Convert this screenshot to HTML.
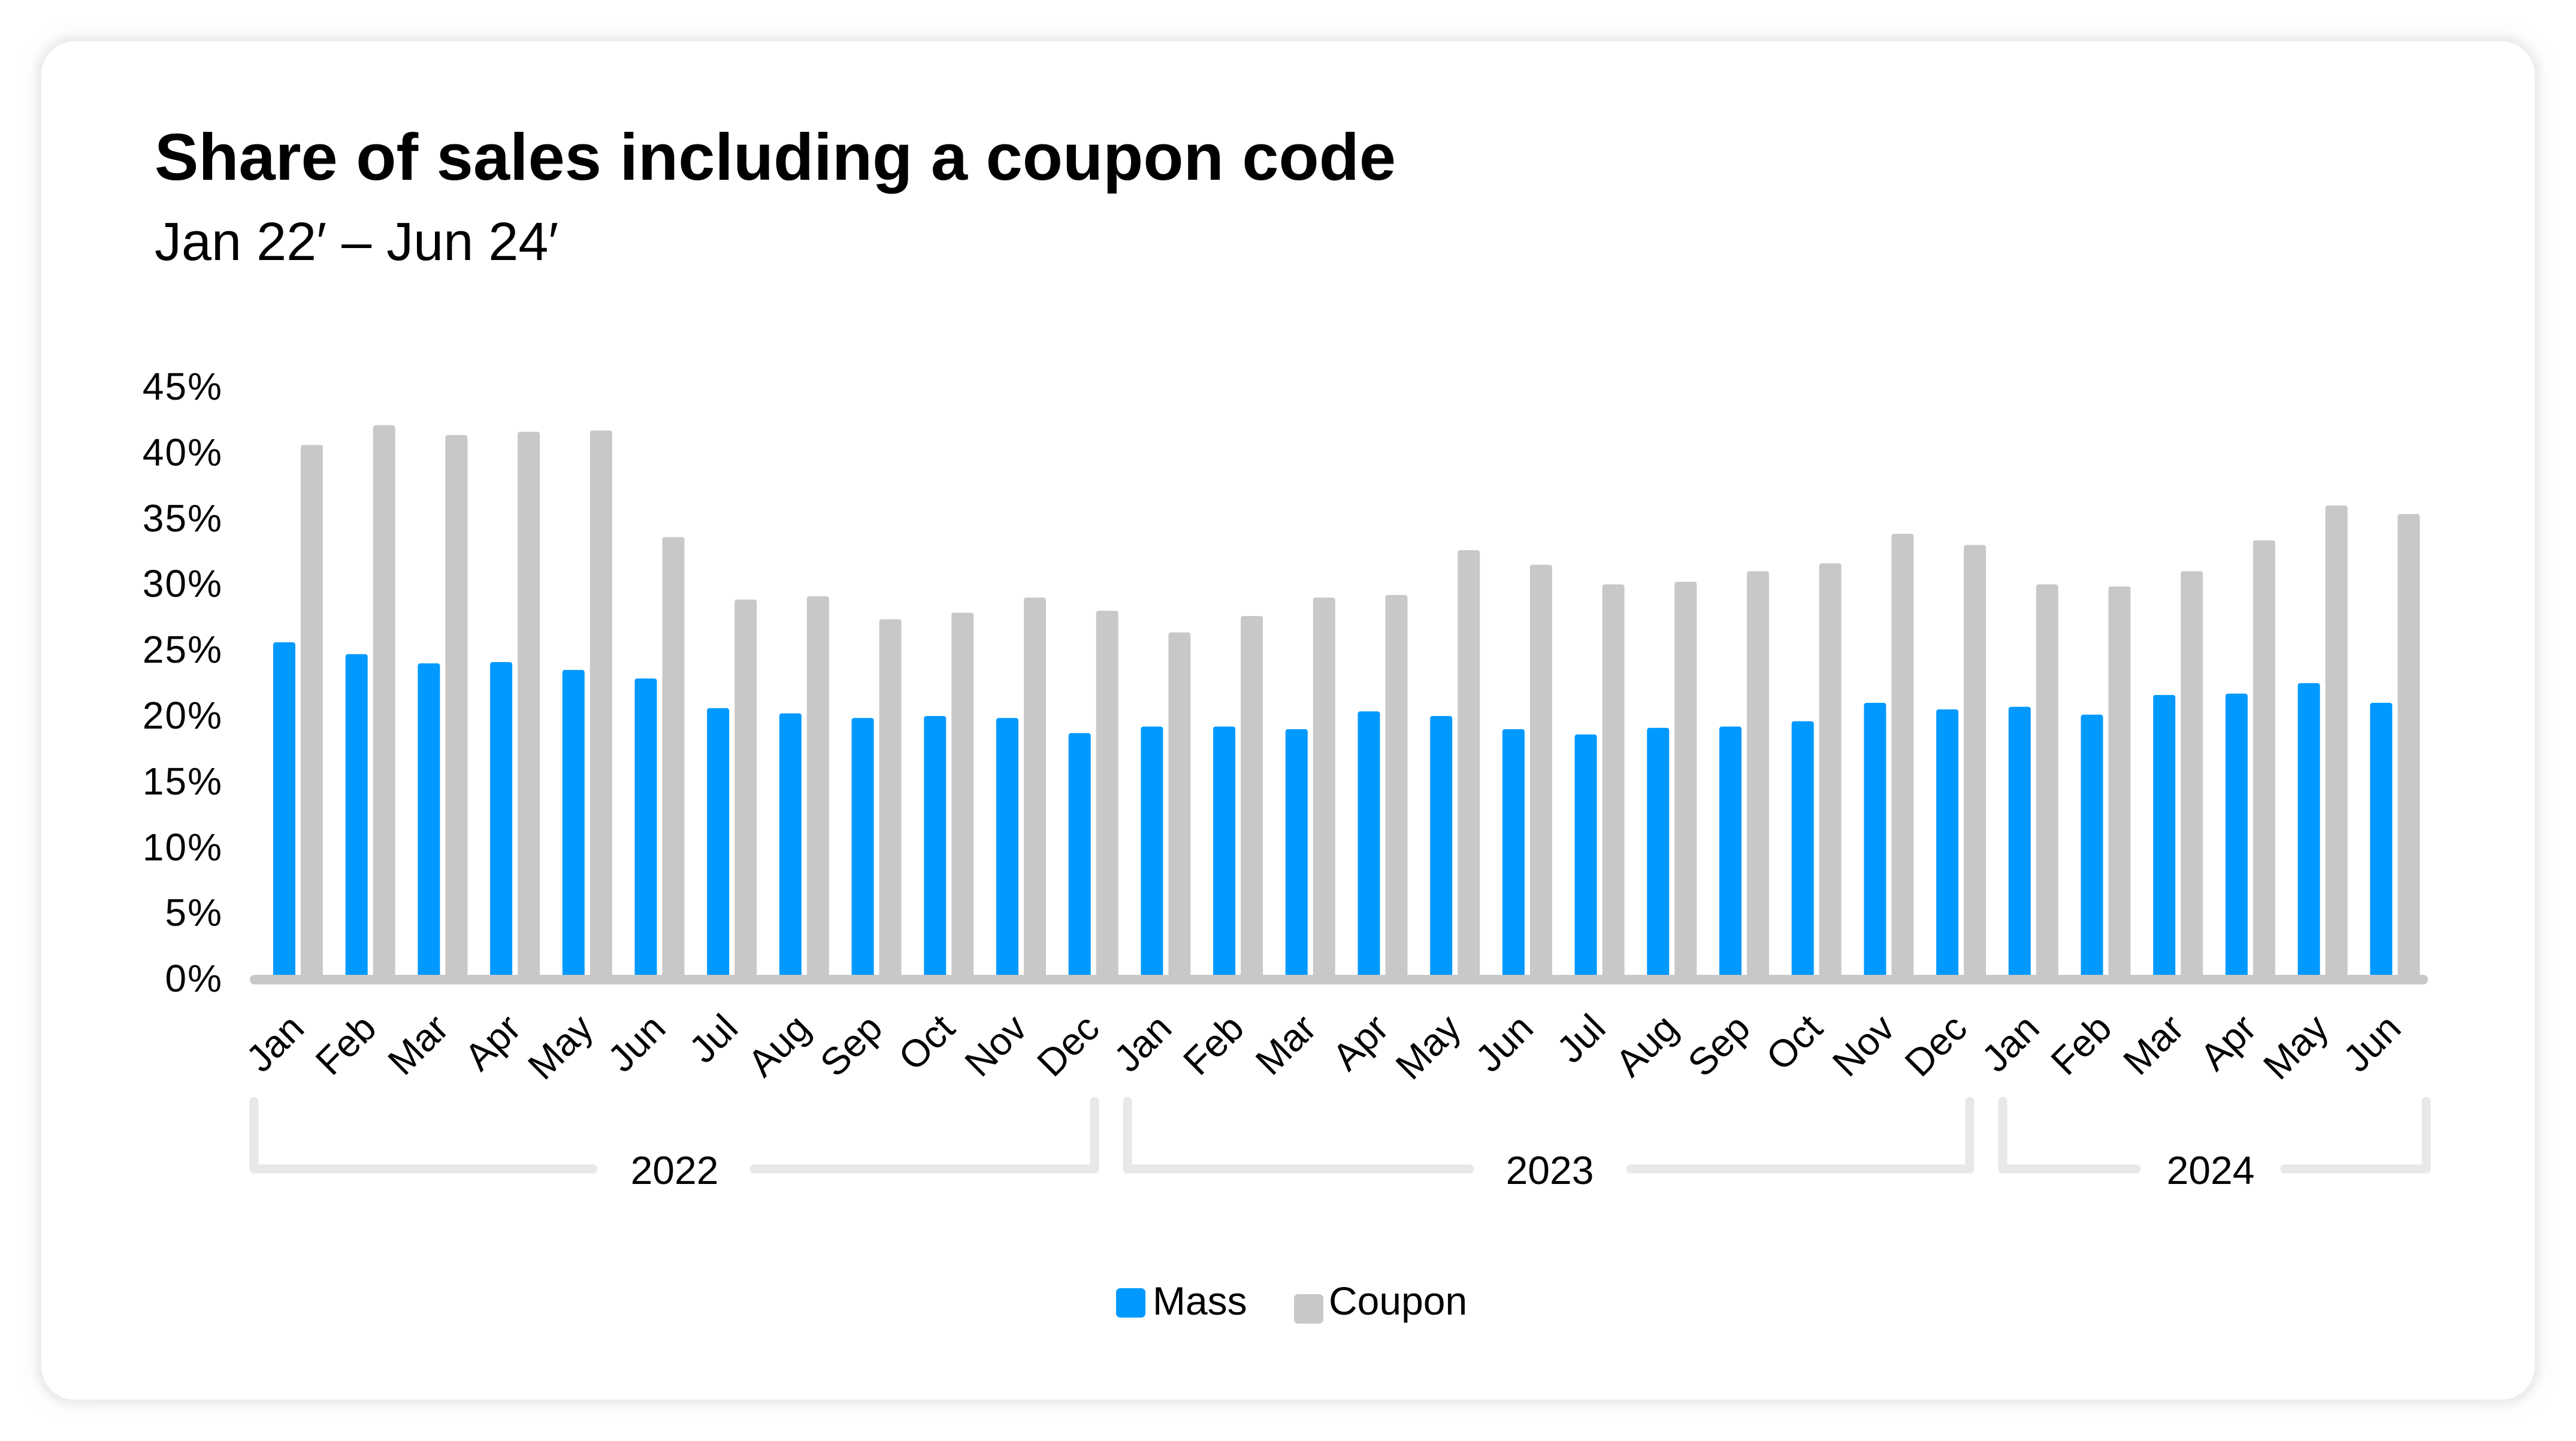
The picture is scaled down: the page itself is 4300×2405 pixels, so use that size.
<!DOCTYPE html>
<html><head><meta charset="utf-8"><style>
html,body{margin:0;padding:0;background:#fff;}
body{width:4300px;height:2405px;position:relative;overflow:hidden;font-family:"Liberation Sans",sans-serif;}
.card{position:absolute;left:69px;top:69px;width:4162px;height:2267px;background:#fff;border-radius:56px;box-shadow:0 0 12px 10px rgba(0,0,0,0.06),0 0 40px 20px rgba(0,0,0,0.025);}
svg{position:absolute;left:0;top:0;}
</style></head><body>
<div class="card"></div>
<svg width="4300" height="2405" viewBox="0 0 4300 2405" xmlns="http://www.w3.org/2000/svg" font-family="Liberation Sans, sans-serif">
<text x="258" y="300" font-size="110" font-weight="bold" fill="#000">Share of sales including a coupon code</text>
<text x="258" y="434" font-size="90" fill="#000">Jan 22′ – Jun 24′</text>
<g font-size="64" fill="#000" text-anchor="end" letter-spacing="2">
<text x="372" y="667">45%</text>
<text x="372" y="777">40%</text>
<text x="372" y="887">35%</text>
<text x="372" y="996">30%</text>
<text x="372" y="1106">25%</text>
<text x="372" y="1216">20%</text>
<text x="372" y="1326">15%</text>
<text x="372" y="1436">10%</text>
<text x="372" y="1545">5%</text>
<text x="372" y="1655">0%</text>
</g>
<g id="bars"></g>
<line x1="425" y1="1635" x2="4045" y2="1635" stroke="#c8c8c8" stroke-width="16" stroke-linecap="round"/>
<g id="labels" font-size="64" fill="#000" text-anchor="end"></g>
<g fill="none" stroke="#e8e8e8" stroke-width="15" stroke-linecap="round" stroke-linejoin="round">
<polyline points="424,1838 424,1951 990,1951"/>
<polyline points="1259,1951 1827,1951 1827,1838"/>
<polyline points="1882,1838 1882,1951 2453,1951"/>
<polyline points="2722,1951 3288,1951 3288,1838"/>
<polyline points="3343,1838 3343,1951 3566,1951"/>
<polyline points="3814,1951 4050,1951 4050,1838"/>
</g>
<g font-size="66" fill="#000" text-anchor="middle">
<text x="1126" y="1976">2022</text>
<text x="2587" y="1976">2023</text>
<text x="3690" y="1976">2024</text>
</g>
<rect x="1863" y="2150" width="49" height="49" rx="7" fill="#0099ff"/>
<text x="1924" y="2194" font-size="66" fill="#000">Mass</text>
<rect x="2160" y="2160" width="49" height="49" rx="7" fill="#c8c8c8"/>
<text x="2218" y="2194" font-size="66" fill="#000">Coupon</text>
</svg>
<script>
var blue=[25.5,24.6,23.9,24,23.4,22.75,20.5,20.1,19.75,19.9,19.75,18.6,19.1,19.1,18.9,20.25,19.9,18.9,18.5,19,19.1,19.5,20.9,20.4,20.6,20,21.5,21.6,22.4,20.9];
var gray=[40.5,42,41.25,41.5,41.6,33.5,28.75,29,27.25,27.75,28.9,27.9,26.25,27.5,28.9,29.1,32.5,31.4,29.9,30.1,30.9,31.5,33.75,32.9,29.9,29.75,30.9,33.25,35.9,35.25];
var m=["Jan","Feb","Mar","Apr","May","Jun","Jul","Aug","Sep","Oct","Nov","Dec"];
var ns="http://www.w3.org/2000/svg",g=document.getElementById("bars"),L=document.getElementById("labels");
var base=1632,k=21.96;
for(var i=0;i<30;i++){
 var x=456+i*120.7;
 [[x,blue[i],"#0099ff"],[x+46,gray[i],"#c8c8c8"]].forEach(function(b){
  var r=document.createElementNS(ns,"rect");var h=b[1]*k;
  r.setAttribute("x",b[0]);r.setAttribute("y",base-h);r.setAttribute("width",37);r.setAttribute("height",h);r.setAttribute("rx",4);r.setAttribute("fill",b[2]);g.appendChild(r);
 });
 var cx=x+41,t=document.createElementNS(ns,"text");
 t.setAttribute("transform","translate("+(cx+14)+",1720) rotate(-45)");
 t.textContent=m[i%12];L.appendChild(t);
}
</script>
</body></html>
